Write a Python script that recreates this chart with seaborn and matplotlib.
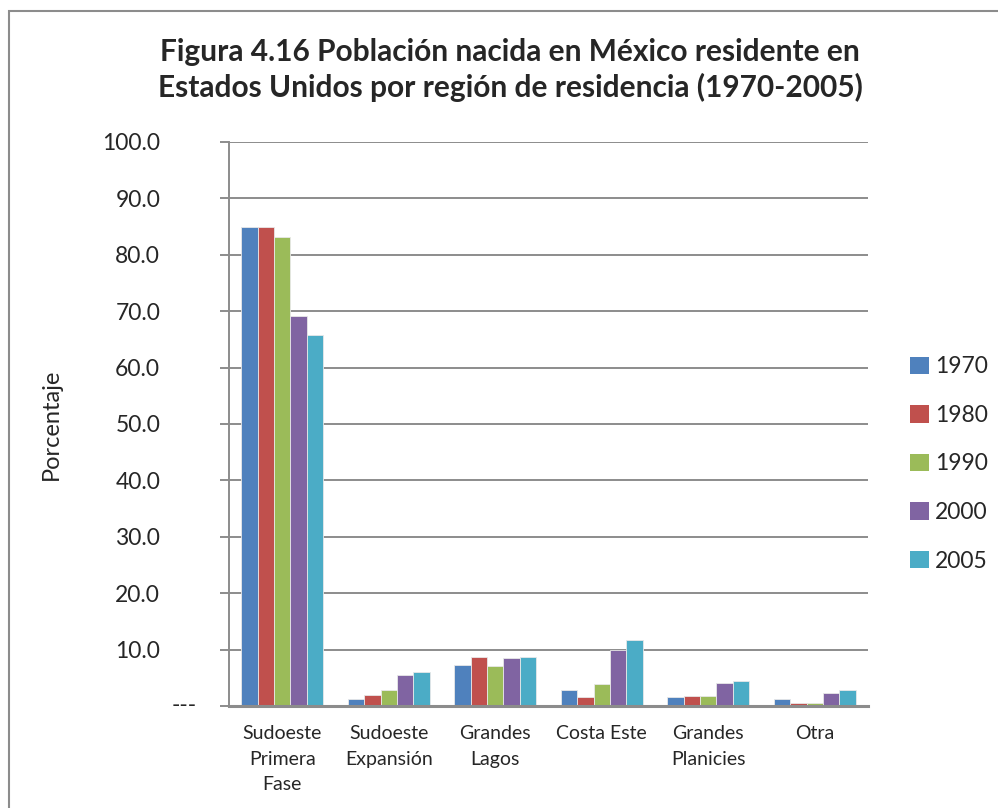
import pandas as pd
import seaborn as sns
import matplotlib.pyplot as plt
from matplotlib.patches import Patch, Rectangle
from matplotlib.transforms import blended_transform_factory

# data (porcentaje)
regiones = ['Sudoeste\nPrimera\nFase', 'Sudoeste\nExpansión', 'Grandes\nLagos',
            'Costa Este', 'Grandes\nPlanicies', 'Otra']
anios = ['1970', '1980', '1990', '2000', '2005']
v1970 = [85.0, 1.3, 7.3, 2.8, 1.6, 1.3]
v1980 = [84.9, 2.0, 8.6, 1.6, 1.7, 0.5]
v1990 = [83.1, 2.9, 7.1, 3.9, 1.8, 0.5]
v2000 = [69.1, 5.5, 8.5, 10.0, 4.1, 2.3]
v2005 = [65.8, 6.0, 8.6, 11.7, 4.5, 2.9]
colores = ['#4F81BD', '#C0504D', '#9BBB59', '#8064A2', '#4BACC6']

rows = []
for anio, vals in zip(anios, [v1970, v1980, v1990, v2000, v2005]):
    for reg, v in zip(regiones, vals):
        rows.append({'region': reg, 'anio': anio, 'pct': v})
df = pd.DataFrame(rows)

sns.set_theme(style='white')
plt.rcParams['font.family'] = ['Lato', 'DejaVu Sans']

fig = plt.figure(figsize=(9.98, 8.08), dpi=100)
ax = fig.add_axes([229 / 998, 1 - 706 / 808, (868 - 229) / 998, (706 - 142) / 808])

sns.barplot(data=df, x='region', y='pct', hue='anio', palette=colores,
            width=0.77, saturation=1, edgecolor='#e8e8e8', linewidth=0.6,
            legend=False, ax=ax, zorder=3)

gris = '#8c8c8c'
ax.set_ylim(0, 100)
ax.set_yticks(range(0, 101, 10))
ax.set_yticklabels([''] + ['%.1f' % v for v in range(10, 101, 10)], fontsize=16.5)
ax.yaxis.grid(True, color=gris, linewidth=1.4, zorder=0)
ax.set_axisbelow(True)
ax.tick_params(axis='y', direction='out', length=6.5, width=1.4, color=gris, pad=43, left=True)
ax.tick_params(axis='x', length=0, pad=14, labelsize=14)
for lab in ax.get_xticklabels():
    lab.set_linespacing(1.6)
ax.set_xlabel('')
ax.set_ylabel('Porcentaje', fontsize=17, labelpad=0)
ax.yaxis.set_label_coords(-167 / 639, 0.5)
for s in ['top', 'right']:
    ax.spines[s].set_visible(False)
ax.spines['left'].set_color(gris)
ax.spines['left'].set_linewidth(1.4)
ax.spines['bottom'].set_color(gris)
ax.spines['bottom'].set_linewidth(2.2)
ax.spines['bottom'].set_zorder(4)

# zero label as shown in the reference
tr = blended_transform_factory(fig.transFigure, ax.transData)
ax.text(197 / 998, 0, '---', transform=tr, ha='right', va='center', fontsize=16.5)

fig.text(510 / 998, 1 - 38 / 808,
         'Figura 4.16 Población nacida en México residente en\n'
         'Estados Unidos por región de residencia (1970-2005)',
         ha='center', va='top', fontsize=21.5, fontweight='bold', linespacing=1.3)

handles = [Patch(facecolor=c, edgecolor='none') for c in colores]
fig.legend(handles, anios, loc='center left', bbox_to_anchor=(901 / 998, 1 - 464 / 808),
           frameon=False, fontsize=16.5, handlelength=0.8, handleheight=0.8,
           handletextpad=0.3, labelspacing=1.2, borderaxespad=0)

fig.patches.append(Rectangle((9 / 998, -0.1), 1.2, 1 - 11 / 808 + 0.1, transform=fig.transFigure,
                             fill=False, edgecolor=gris, linewidth=1.5, figure=fig))

fig.savefig('out.png', dpi=100)
